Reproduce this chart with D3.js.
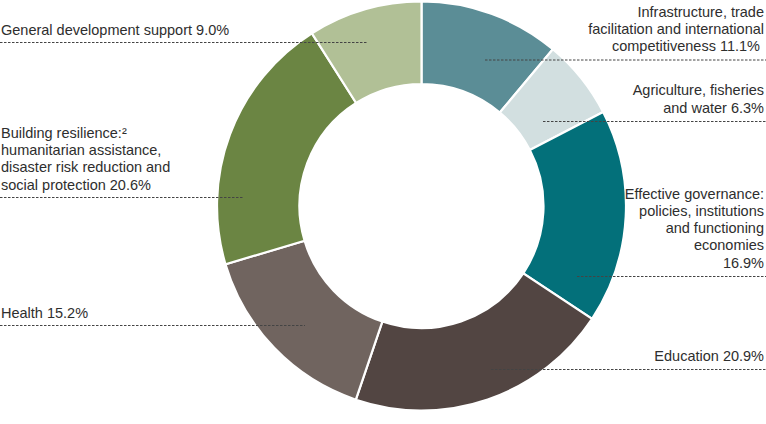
<!DOCTYPE html>
<html><head><meta charset="utf-8">
<script src="https://cdn.jsdelivr.net/npm/d3@7"></script>
<style>
html,body{margin:0;padding:0;background:#fff;}
svg{display:block;}
text{font-family:"Liberation Sans",Arial,sans-serif;font-size:14.5px;fill:#2e2e2e;}
</style></head>
<body>
<svg id="chart" width="766" height="424"></svg>
<script>
const categories = ["Infrastructure, trade facilitation and international competitiveness","Agriculture, fisheries and water","Effective governance: policies, institutions and functioning economies","Education","Health","Building resilience: humanitarian assistance, disaster risk reduction and social protection","General development support"];
const values = [11.1, 6.3, 16.9, 20.9, 15.2, 20.6, 9.0];
const colors = ["#5b8d96","#d2dfe0","#03707a","#524542","#70645f","#6b8543","#b1c096"];
const labelLines = [
  ["Infrastructure, trade","facilitation and international","competitiveness 11.1%\u00A0"],
  ["Agriculture, fisheries","and water 6.3%"],
  ["Effective governance:","policies, institutions","and functioning","economies","16.9%"],
  ["Education 20.9%"],
  ["Health 15.2%"],
  ["Building resilience:\u00B2","humanitarian assistance,","disaster risk reduction and","social protection 20.6%"],
  ["General development support 9.0%"]
];
// leader layout: side, line y, inner x end
const leaders = [
  {side:"right", y:59.5, x:485},
  {side:"right", y:121, x:543},
  {side:"right", y:276, x:577},
  {side:"right", y:369, x:491},
  {side:"left", y:325, x:305},
  {side:"left", y:197, x:244},
  {side:"left", y:42, x:367}
];

const W = 766, H = 424;
const cx = 421.5, cy = 206, rOut = 204.5, rIn = 122;
const svg = d3.select("#chart");

const pie = d3.pie().sort(null).value(d => d)(values);
const arc = d3.arc().innerRadius(rIn).outerRadius(rOut);

const g = svg.append("g").attr("transform", `translate(${cx},${cy})`);
g.selectAll("path").data(pie).join("path")
  .attr("d", arc)
  .attr("fill", (d,i) => colors[i])
  .attr("stroke", "#fff")
  .attr("stroke-width", 2.2);

const lh = 17.2;
leaders.forEach((L, i) => {
  const x1 = L.side === "right" ? L.x : 0;
  const x2 = L.side === "right" ? W : L.x;
  svg.append("line")
    .attr("x1", x1).attr("x2", x2)
    .attr("y1", L.y + 0.5).attr("y2", L.y + 0.5)
    .attr("stroke", "#444").attr("stroke-width", 1)
    .attr("stroke-dasharray", "2.5,1.5");
  const lines = labelLines[i];
  const n = lines.length;
  const baseOffset = L.side === "right" ? 8.5 : 7.5;
  const t = svg.append("text")
    .attr("text-anchor", L.side === "right" ? "end" : "start");
  lines.forEach((s, j) => {
    t.append("tspan")
      .attr("x", L.side === "right" ? 764 : 1)
      .attr("y", L.y - baseOffset - (n - 1 - j) * lh)
      .text(s);
  });
});
</script>
</body></html>
